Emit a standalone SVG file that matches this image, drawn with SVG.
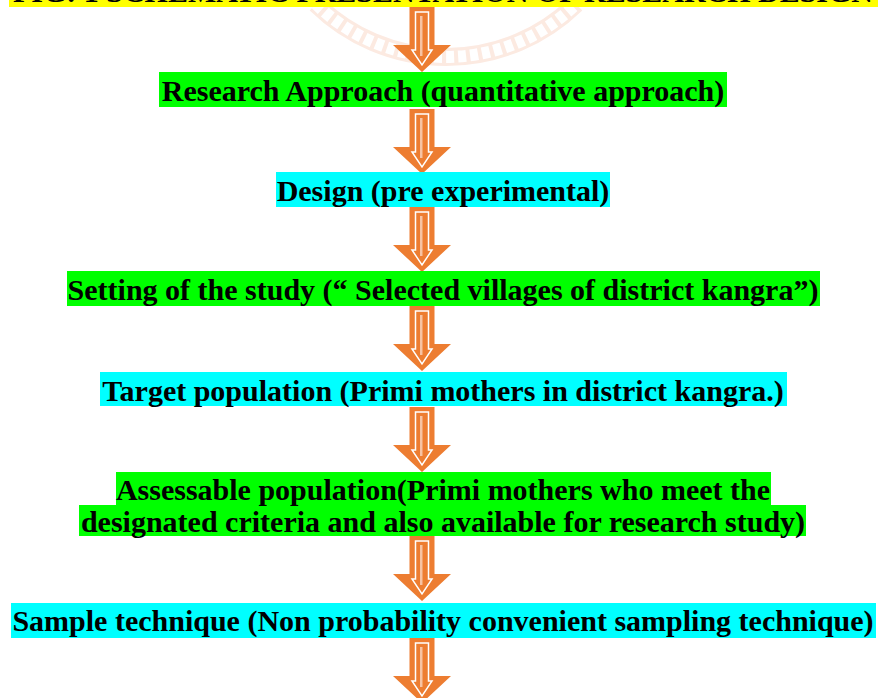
<svg xmlns="http://www.w3.org/2000/svg" width="880" height="698" viewBox="0 0 880 698">
  <style>
    .t { font-family: "Liberation Serif", "Times New Roman", serif; font-weight: bold; font-size: 30px; fill: #000; text-anchor: middle; }
    .g { fill: #00ff00; }
    .c { fill: #00ffff; }
    .y { fill: #ffff00; }
  </style>
  <defs>
    <!-- block arrow pointing down, top at y=0, tip at y=65 -->
    <g id="down-arrow">
      <path d="M-12.5,0 H12.5 V38 H29 L0,65 L-29,38 H-12.5 Z" fill="#ed7d31"/>
      <path d="M-6.5,5 H6.5 V43 H10 L0,58 L-10,43 H-6.5 Z" fill="none" stroke="#ffffff" stroke-width="1.5"/>
      <rect x="-2" y="9" width="2.5" height="40" fill="#f7c3a3"/>
    </g>
  </defs>

  <rect width="880" height="698" fill="#ffffff"/>

  <!-- faint rope seal behind the title -->
  <g id="seal" opacity="0.75">
    <path d="M316,4 A186,186 0 0 0 576,4" fill="none" stroke="#fbe3d8" stroke-width="18"/>
    <path d="M316,4 A186,186 0 0 0 576,4" fill="none" stroke="#ffffff" stroke-width="12" stroke-dasharray="8 4"/>
  </g>

  <!-- title bar (cut at the top edge) -->
  <g id="title">
    <rect class="y" x="9" y="0" width="869" height="7"/>
    <text class="t" x="443" y="2" textLength="860" lengthAdjust="spacingAndGlyphs">FIG: 1 SCHEMATIC PRESENTATION OF RESEARCH DESIGN</text>
  </g>

  <g id="connectors">
    <use href="#down-arrow" transform="translate(422,7)"/>
    <use href="#down-arrow" transform="translate(422,109)"/>
    <use href="#down-arrow" transform="translate(422,207)"/>
    <use href="#down-arrow" transform="translate(422,306)"/>
    <use href="#down-arrow" transform="translate(422,407)"/>
    <use href="#down-arrow" transform="translate(422,536)"/>
    <use href="#down-arrow" transform="translate(422,638)"/>
  </g>

  <g id="approach">
    <rect class="g" x="159" y="72" width="568" height="35"/>
    <text class="t" x="443" y="101">Research Approach (quantitative approach)</text>
  </g>

  <g id="design">
    <rect class="c" x="276" y="172" width="334" height="35"/>
    <text class="t" x="443" y="201">Design (pre experimental)</text>
  </g>

  <g id="setting">
    <rect class="g" x="67" y="271" width="753" height="35"/>
    <text class="t" x="443" y="300">Setting of the study (“ Selected villages of district kangra”)</text>
  </g>

  <g id="target">
    <rect class="c" x="100" y="372" width="687" height="34"/>
    <text class="t" x="443" y="401">Target population (Primi mothers in district kangra.)</text>
  </g>

  <g id="accessible">
    <rect class="g" x="116" y="472" width="655" height="33"/>
    <rect class="g" x="79" y="505" width="727" height="31"/>
    <text class="t" x="443" y="500">Assessable population(Primi mothers who meet the</text>
    <text class="t" x="443" y="532">designated criteria and also available for research study)</text>
  </g>

  <g id="sampling">
    <rect class="c" x="11" y="603" width="865" height="35"/>
    <text class="t" x="443" y="631">Sample technique (Non probability convenient sampling technique)</text>
  </g>
</svg>
